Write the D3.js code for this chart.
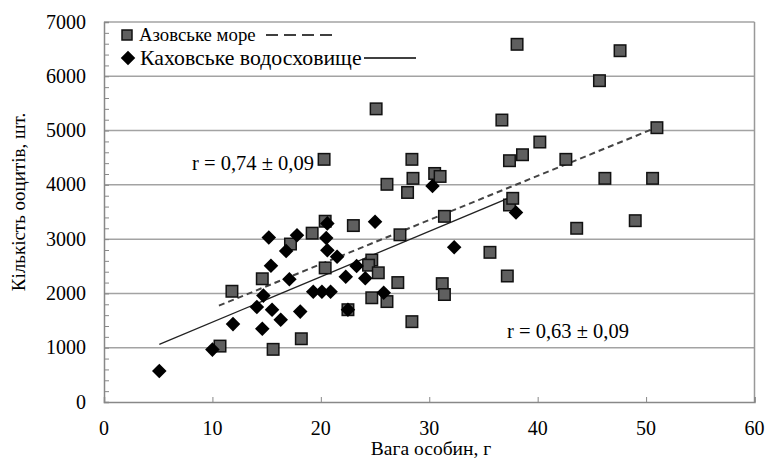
<!DOCTYPE html>
<html><head><meta charset="utf-8">
<script src="https://cdn.jsdelivr.net/npm/d3@7"></script>
<style>body{margin:0;background:#fff}svg{display:block}text{font-family:"Liberation Serif","Times New Roman",serif;fill:#000}</style>
</head><body>
<script>
// Азовське море (squares): weight, g
const azovX = [10.7,11.8,14.6,15.6,17.2,18.2,19.2,20.4,20.4,20.3,22.5,23.0,24.7,24.4,25.3,24.7,26.1,25.1,26.1,27.1,27.3,28.0,28.4,28.5,28.4,30.5,31.0,31.4,31.2,31.4,35.6,36.7,37.2,37.4,37.7,37.4,38.1,38.6,40.2,42.6,43.6,45.7,46.2,47.6,49.0,50.6,51.0];
const azovY = [1030,2040,2270,970,2910,1165,3110,3330,2470,4470,1700,3250,2615,2520,2380,1920,1850,5400,4010,2200,3080,3860,4470,4120,1480,4210,4155,3420,2180,1980,2757,5194,2321,3629,3752,4445,6589,4555,4789,4470,3200,5919,4120,6471,3340,4120,5053];
// Каховське водосховище (diamonds)
const kakhX = [5.1,10.0,11.9,14.6,14.1,14.7,15.2,15.4,15.5,16.3,16.8,17.1,17.8,18.1,19.3,20.1,20.9,20.6,20.5,20.6,21.5,22.3,22.5,23.3,24.1,25.0,25.8,30.3,32.3,38.0];
const kakhY = [570,965,1435,1350,1750,1960,3030,2510,1700,1515,2780,2260,3070,1665,2030,2030,2030,3290,3020,2795,2677,2308,1700,2505,2278,3322,2013,3980,2850,3490];
// trend lines (endpoints)
const azovTrendX = [10.6, 51.0];
const azovTrendY = [1775, 5060];
const kakhTrendX = [5.1, 38.0];
const kakhTrendY = [1062, 3813];
const xTicks = [0,10,20,30,40,50,60];
const yTicks = [0,1000,2000,3000,4000,5000,6000,7000];
const legendLabels = ["Азовське море","Каховське водосховище"];
const rLabels = ["r = 0,74 ± 0,09","r = 0,63 ± 0,09"];
const xTitle = "Вага особин, г";
const yTitle = "Кількість ооцитів, шт.";

const W=765,H=462;
const svg=d3.select("body").append("svg").attr("width",W).attr("height",H);
const x=d3.scaleLinear().domain([0,60]).range([104,754.5]);
const y=d3.scaleLinear().domain([0,7000]).range([402,22]);

// gridlines
svg.append("g").selectAll("line").data(yTicks.filter(d=>d>0)).join("line")
 .attr("x1",x(0)).attr("x2",x(60)).attr("y1",d=>y(d)).attr("y2",d=>y(d))
 .attr("stroke","#a3a3a3").attr("stroke-width",1.5);
// plot border right
svg.append("line").attr("x1",x(60)).attr("x2",x(60)).attr("y1",y(7000)).attr("y2",y(0)).attr("stroke","#999").attr("stroke-width",1.5);

// y axis
const yAxis=d3.axisRight(y).tickValues(d3.range(0,7001,200)).tickSize(5).tickFormat("");
const gy=svg.append("g").attr("transform",`translate(${x(0)},0)`).call(yAxis);
gy.select(".domain").attr("stroke","#888").attr("stroke-width",1.5);
gy.selectAll(".tick line").attr("stroke","#888");
// x axis
const xAxis=d3.axisTop(x).tickValues(xTicks).tickSize(5).tickFormat("");
const gx=svg.append("g").attr("transform",`translate(0,${y(0)})`).call(xAxis);
gx.select(".domain").attr("stroke","#888").attr("stroke-width",1.5);
gx.selectAll(".tick line").attr("stroke","#888");

// tick labels
svg.append("g").selectAll("text").data(yTicks).join("text")
 .attr("x",86).attr("y",d=>y(d)+6.5).attr("text-anchor","end").attr("font-size",20).text(d=>d);
svg.append("g").selectAll("text").data(xTicks).join("text")
 .attr("x",d=>x(d)).attr("y",435).attr("text-anchor","middle").attr("font-size",20).text(d=>d);

// titles
svg.append("text").attr("x",431).attr("y",455).attr("text-anchor","middle").attr("font-size",19.5).text(xTitle);
svg.append("text").attr("transform","translate(25,202) rotate(-90)").attr("text-anchor","middle").attr("font-size",19).text(yTitle);

// trend lines
const line=d3.line().x(d=>x(d[0])).y(d=>y(d[1]));
svg.append("path").attr("d",line(d3.zip(azovTrendX,azovTrendY))).attr("fill","none")
 .attr("stroke","#444").attr("stroke-width",2).attr("stroke-dasharray","6,4");
svg.append("path").attr("d",line(d3.zip(kakhTrendX,kakhTrendY))).attr("fill","none")
 .attr("stroke","#222").attr("stroke-width",1.3);

// markers
const sq=11.5;
svg.append("g").selectAll("rect").data(d3.zip(azovX,azovY)).join("rect")
 .attr("x",d=>x(d[0])-sq/2).attr("y",d=>y(d[1])-sq/2).attr("width",sq).attr("height",sq)
 .attr("fill","#5f5f5f").attr("stroke","#111").attr("stroke-width",1.5);
const dm=d3.symbol().type(d3.symbolDiamond2).size(135);
svg.append("g").selectAll("path").data(d3.zip(kakhX,kakhY)).join("path")
 .attr("transform",d=>`translate(${x(d[0])},${y(d[1])})`).attr("d",dm).attr("fill","#000");

// annotations
svg.append("text").attr("x",192).attr("y",170).attr("font-size",20.5).text(rLabels[0]);
svg.append("text").attr("x",507).attr("y",338).attr("font-size",20.5).text(rLabels[1]);

// legend
const lg=svg.append("g");
lg.append("rect").attr("x",127-5).attr("y",35-5).attr("width",10).attr("height",10).attr("fill","#5f5f5f").attr("stroke","#111").attr("stroke-width",1.5);
lg.append("text").attr("x",139).attr("y",41).attr("font-size",18.8).text(legendLabels[0]);
lg.append("line").attr("x1",266).attr("x2",332).attr("y1",35).attr("y2",35).attr("stroke","#000").attr("stroke-width",1.5).attr("stroke-dasharray","12,6");
lg.append("path").attr("transform","translate(128,58)").attr("d",dm).attr("fill","#000");
lg.append("text").attr("x",140).attr("y",64.5).attr("font-size",21.8).text(legendLabels[1]);
lg.append("line").attr("x1",364).attr("x2",416).attr("y1",58).attr("y2",58).attr("stroke","#000").attr("stroke-width",1.5);
</script>
</body></html>
